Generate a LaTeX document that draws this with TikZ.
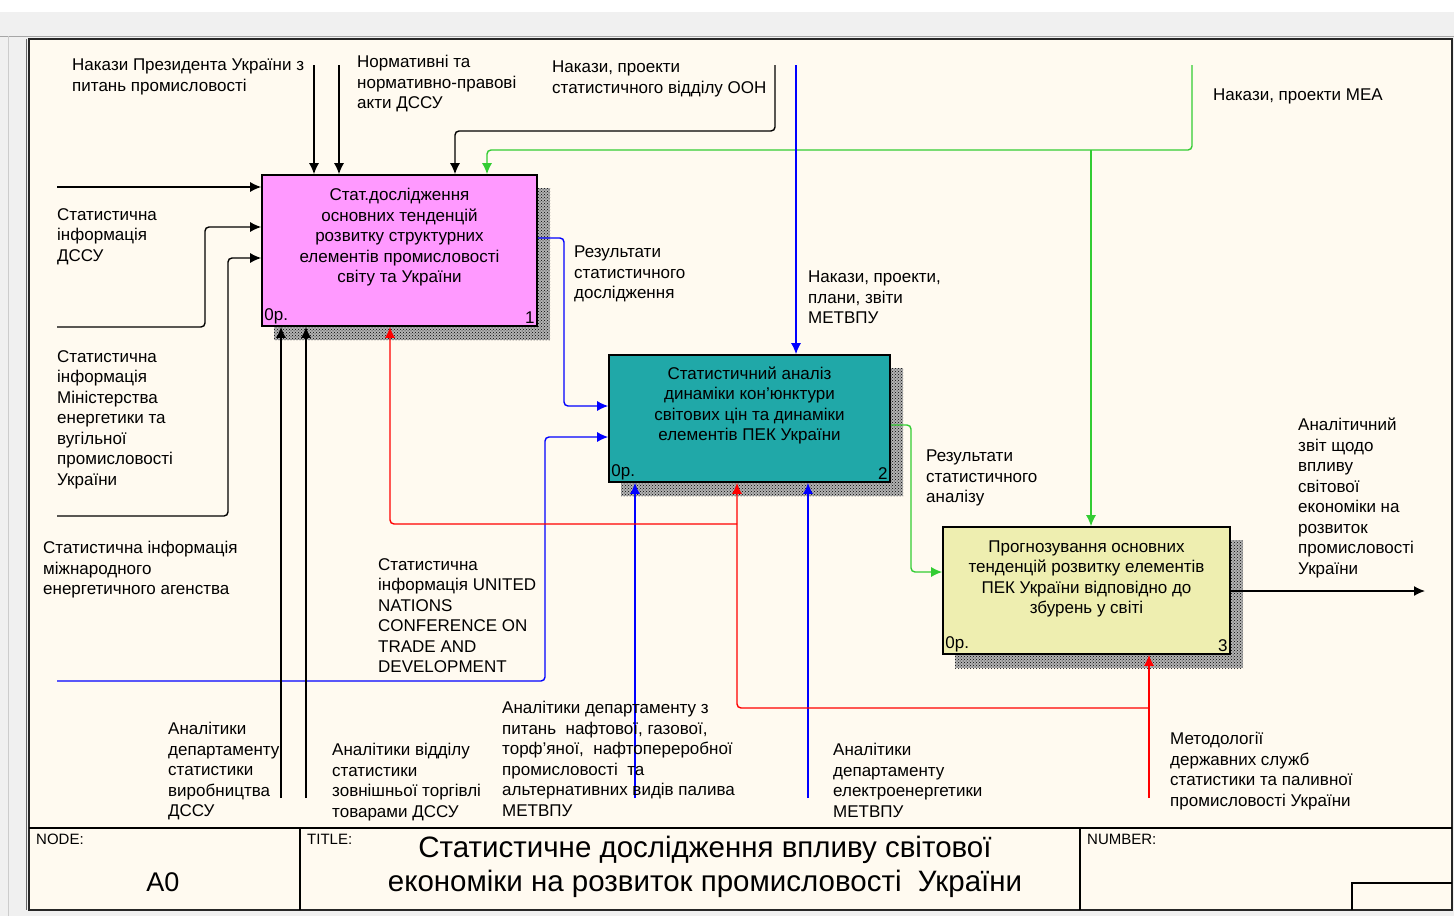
\documentclass[tikz,border=0pt]{standalone}
\usepackage{fontspec}
\setmainfont{Liberation Sans}
\usetikzlibrary{arrows.meta,patterns,positioning}
\definecolor{paper}{RGB}{255,250,240}
\definecolor{boxpink}{RGB}{255,153,255}
\definecolor{boxteal}{RGB}{32,168,168}
\definecolor{boxsand}{RGB}{238,238,176}
\definecolor{arrgreen}{RGB}{51,204,51}
\begin{document}
\begin{tikzpicture}[x=1pt,y=-1pt,
  func/.style={draw=black, line width=1.6pt, inner sep=0pt},
  shadowbox/.style={preaction={fill=black!30}, pattern=crosshatch dots, pattern color=black},
  ftext/.style={font=\fontsize{17}{20.5}\selectfont, align=center, inner sep=0pt},
  lbl/.style={font=\fontsize{17}{20.5}\selectfont, align=left, anchor=north west, inner sep=0pt},
  corner/.style={font=\fontsize{17}{19}\selectfont, inner sep=3pt},
  conn/.style={line width=1.4pt, rounded corners=4pt, -{Latex[length=11pt,width=10pt]}},
  small/.style={font=\fontsize{15}{17}\selectfont, anchor=north west, inner sep=0pt}]
  % поле аркуша
  \useasboundingbox (0,0) rectangle (1454,916);
  \fill[black!6] (0,0) rectangle (1454,916);
  \fill[white] (0,0) rectangle (1454,12);
  \draw[black!35, line width=1pt] (0,36) -- (1454,36);
  \draw[black!20, line width=1pt] (8,36) -- (8,916);
  \draw[black!85, line width=2.2pt, fill=paper] (29,39) rectangle (1452,910);
  \draw[black!60, line width=1.5pt] (26.5,39) -- (26.5,910);

  % блок назви
  \draw[line width=1.6pt] (29,828) -- (1452,828);
  \draw[line width=1.6pt] (300,828) -- (300,910);
  \draw[line width=1.6pt] (1080,828) -- (1080,910);
  \draw[line width=1.6pt] (1352,910) |- (1452,883);
  \node[small] (node) at (36,834) {NODE:};
  \node[font=\fontsize{27}{30}\selectfont] (num) at (163,882) {A0};
  \node[small] (title) at (307,834) {TITLE:};
  \node[font=\fontsize{29.5}{34}\selectfont, align=center] (ttext) at (705,867)
    {Статистичне дослідження впливу світової\\економіки на розвиток промисловості\ \ України};
  \node[small] (number) at (1087,834) {NUMBER:};

  % тіні блоків
  \fill[shadowbox] (274,188) rectangle (550,340);
  \fill[shadowbox] (621,368) rectangle (903,496);
  \fill[shadowbox] (955,540) rectangle (1243,668);

  % функціональні блоки
  \node[func, fill=boxpink, minimum width=275pt, minimum height=151pt] (b1) at (399.5,250.5) {};
  \node[func, fill=boxteal, minimum width=281pt, minimum height=127pt] (b2) at (749.5,418.5) {};
  \node[func, fill=boxsand, minimum width=287pt, minimum height=127pt] (b3) at (1086.5,590.5) {};
  \node[ftext, below=14pt of b1.north] (b1t) {Стат.дослідження\\основних тенденцій\\розвитку структурних\\елементів промисловості\\світу та України};
  \node[ftext, below=12pt of b2.north] (b2t) {Статистичний аналіз\\динаміки кон'юнктури\\світових цін та динаміки\\елементів ПЕК України};
  \node[ftext, below=14pt of b3.north] (b3t) {Прогнозування основних\\тенденцій розвитку елементів\\ПЕК України відповідно до\\збурень у світі};
  \node[corner, anchor=south west] (b1p) at (b1.south west) {0р.};
  \node[corner, anchor=south east] (b1n) at (b1.south east) {1};
  \node[corner, anchor=south west] (b2p) at (b2.south west) {0р.};
  \node[corner, anchor=south east] (b2n) at (b2.south east) {2};
  \node[corner, anchor=south west] (b3p) at (b3.south west) {0р.};
  \node[corner, anchor=south east] (b3n) at (b3.south east) {3};

  % входи
  \coordinate (in1) at (57,187);
  \coordinate (in2) at (57,327);  \coordinate (in2k) at (205,227);
  \coordinate (in3) at (57,516);  \coordinate (in3k) at (228,258);
  \coordinate (in4) at (57,681);  \coordinate (in4k) at (545,437);
  \draw[conn] (in1) -- (in1 -| b1.west);
  \draw[conn] (in2) -| (in2k) -- (in2k -| b1.west);
  \draw[conn] (in3) -| (in3k) -- (in3k -| b1.west);
  \draw[conn, blue] (in4) -| (in4k) -- (in4k -| b2.west);

  % управління
  \coordinate (ctl1) at (314,65);
  \coordinate (ctl2) at (339,65);
  \coordinate (ctl3) at (775,65);  \coordinate (ctl3k) at (455,131);
  \coordinate (ctl4) at (1192,65); \coordinate (ctl4k) at (487,150);
  \coordinate (ctl4j) at (1091,150);
  \coordinate (ctl5) at (796,65);
  \draw[conn] (ctl1) -- (ctl1 |- b1.north);
  \draw[conn] (ctl2) -- (ctl2 |- b1.north);
  \draw[conn] (ctl3) |- (ctl3k) -- (ctl3k |- b1.north);
  \draw[conn, arrgreen] (ctl4) |- (ctl4k) -- (ctl4k |- b1.north);
  \draw[conn, arrgreen] (ctl4j) -- (ctl4j |- b3.north);
  \draw[conn, blue] (ctl5) -- (ctl5 |- b2.north);

  % виходи
  \coordinate (o1) at (564,238);   \coordinate (o1k) at (564,406);
  \coordinate (o2) at (911,425);   \coordinate (o2k) at (911,572);
  \coordinate (out3) at (1425,591);
  \draw[conn, blue] (o1 -| b1.east) -- (o1) -- (o1k) -- (o1k -| b2.west);
  \draw[conn, arrgreen] (o2 -| b2.east) -- (o2) -- (o2k) -- (o2k -| b3.west);
  \draw[conn] (out3 -| b3.east) -- (out3);

  % механізми
  \coordinate (mech1) at (281,798);
  \coordinate (mech2) at (306,798);
  \coordinate (mech3) at (635,798);
  \coordinate (mech4) at (808,798);
  \coordinate (mech5) at (1149,798);
  \coordinate (mech5j) at (1149,708);
  \coordinate (m5a) at (737,524);
  \coordinate (m5b) at (390,524);
  \draw[conn] (mech1) -- (mech1 |- b1.south);
  \draw[conn] (mech2) -- (mech2 |- b1.south);
  \draw[conn, blue] (mech3) -- (mech3 |- b2.south);
  \draw[conn, blue] (mech4) -- (mech4 |- b2.south);
  \draw[conn, red] (mech5) -- (mech5 |- b3.south);
  \draw[conn, red] (mech5j) -| (m5a |- b2.south);
  \draw[conn, red] (m5a) -| (m5b |- b1.south);

  % підписи стрілок
  \node[lbl] (l1) at (72,59) {Накази Президента України з\\питань промисловості};
  \node[lbl] (l2) at (357,55) {Нормативні та\\нормативно-правові\\акти ДССУ};
  \node[lbl] (l3) at (552,61) {Накази, проекти\\статистичного відділу ООН};
  \node[lbl] (l4) at (1213,89) {Накази, проекти МЕА};
  \node[lbl] (l5) at (57,208) {Статистична\\інформація\\ДССУ};
  \node[lbl] (l6) at (57,350) {Статистична\\інформація\\Міністерства\\енергетики та\\вугільної\\промисловості\\України};
  \node[lbl] (l7) at (43,541) {Статистична інформація\\міжнародного\\енергетичного агенства};
  \node[lbl] (l8) at (378,558) {Статистична\\інформація UNITED\\NATIONS\\CONFERENCE ON\\TRADE AND\\DEVELOPMENT};
  \node[lbl] (l9) at (574,246) {Результати\\статистичного\\дослідження};
  \node[lbl] (l10) at (808,271) {Накази, проекти,\\плани, звіти\\МЕТВПУ};
  \node[lbl] (l11) at (926,450) {Результати\\статистичного\\аналізу};
  \node[lbl] (l12) at (1298,418) {Аналітичний\\звіт щодо\\впливу\\світової\\економіки на\\розвиток\\промисловості\\України};
  \node[lbl] (l13) at (168,722) {Аналітики\\департаменту\\статистики\\виробництва\\ДССУ};
  \node[lbl] (l14) at (332,743) {Аналітики відділу\\статистики\\зовнішньої торгівлі\\товарами ДССУ};
  \node[lbl] (l15) at (502,701) {Аналітики департаменту з\\питань\ \ нафтової, газової,\\торф'яної,\ \ нафтопереробної\\промисловості\ \ та\\альтернативних видів палива\\МЕТВПУ};
  \node[lbl] (l16) at (833,743) {Аналітики\\департаменту\\електроенергетики\\МЕТВПУ};
  \node[lbl] (l17) at (1170,732) {Методології\\державних служб\\статистики та паливної\\промисловості України};
\end{tikzpicture}
\end{document}
